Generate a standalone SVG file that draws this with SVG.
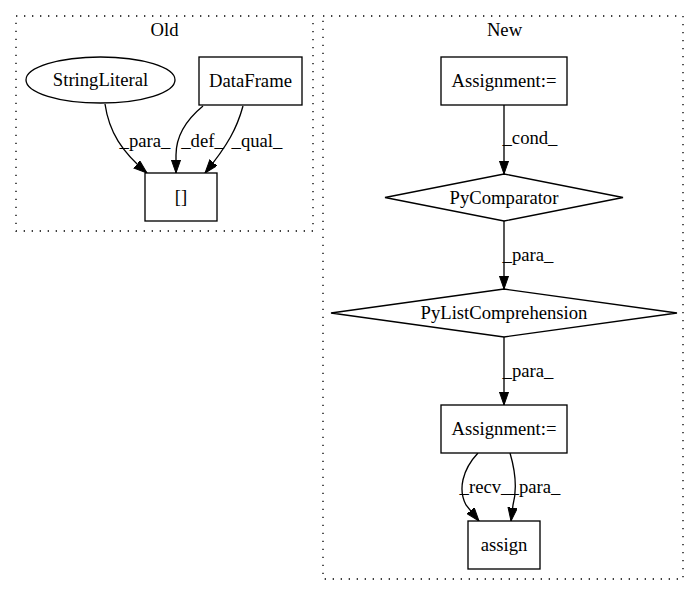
<svg xmlns="http://www.w3.org/2000/svg" width="700" height="596" viewBox="0 0 700 596">
<defs>
<style>
text{font-family:"Liberation Serif","Times New Roman",serif;font-size:18.67px;fill:#000;text-anchor:middle}
.cl{fill:none;stroke:#000;stroke-width:1.33;stroke-dasharray:1.33,6.67}
.nd{fill:#fff;stroke:#000;stroke-width:1.33}
.ed{fill:none;stroke:#000;stroke-width:1.33;marker-end:url(#ah)}
</style>
<marker id="ah" markerUnits="userSpaceOnUse" markerWidth="14" markerHeight="10" refX="13.3" refY="4.67" orient="auto">
<path d="M0,0 L13.3,4.67 L0,9.33 z" fill="#000" stroke="#000" stroke-width="1"/>
</marker>
</defs>
<rect width="700" height="596" fill="#fff"/>
<g id="cluster_old">
<rect class="cl" x="16" y="16" width="297" height="215"/>
<text x="164.5" y="36">Old</text>
</g>
<g id="cluster_new">
<rect class="cl" x="323" y="16" width="360" height="563"/>
<text x="504.5" y="36">New</text>
</g>
<g id="connectors">
<path class="ed" d="M105,104 C109,132 122,152 147,173"/>
<text x="145" y="147">_para_</text>
<path class="ed" d="M203,106 C186,120 176,135 176,155 L176,173"/>
<text x="202.5" y="147">_def_</text>
<path class="ed" d="M243,106 C237,128 228,145 205,173"/>
<text x="257" y="147">_qual_</text>
<path class="ed" d="M504,105 L504,174"/>
<text x="530" y="144">_cond_</text>
<path class="ed" d="M504,221 L504,289"/>
<text x="528" y="261">_para_</text>
<path class="ed" d="M504,337 L504,405"/>
<text x="528" y="377">_para_</text>
<path class="ed" d="M478,453 C462,470 458,490 466,505 L479,521"/>
<text x="485" y="493">_recv_</text>
<path class="ed" d="M510,453 C515,470 517,490 513,505 L511,521"/>
<text x="535" y="493">_para_</text>
</g>
<g id="n_stringliteral">
<ellipse class="nd" cx="100.5" cy="80" rx="74.5" ry="23"/>
<text x="100.5" y="86">StringLiteral</text>
</g>
<g id="n_dataframe">
<rect class="nd" x="199" y="57" width="103" height="48"/>
<text x="250.5" y="87">DataFrame</text>
</g>
<g id="n_index">
<rect class="nd" x="145" y="173" width="72" height="48"/>
<text x="181" y="203">[]</text>
</g>
<g id="n_assign1">
<rect class="nd" x="441" y="57" width="126" height="48"/>
<text x="504" y="87">Assignment:=</text>
</g>
<g id="n_pycomparator">
<polygon class="nd" points="504,174 623,197.5 504,221 385,197.5"/>
<text x="504" y="203.5">PyComparator</text>
</g>
<g id="n_pylistcomp">
<polygon class="nd" points="504,289 677,313 504,337 331,313"/>
<text x="504" y="319">PyListComprehension</text>
</g>
<g id="n_assign2">
<rect class="nd" x="441" y="405" width="126" height="48"/>
<text x="504" y="435">Assignment:=</text>
</g>
<g id="n_assign">
<rect class="nd" x="468" y="521" width="72" height="48"/>
<text x="504" y="551">assign</text>
</g>
</svg>
